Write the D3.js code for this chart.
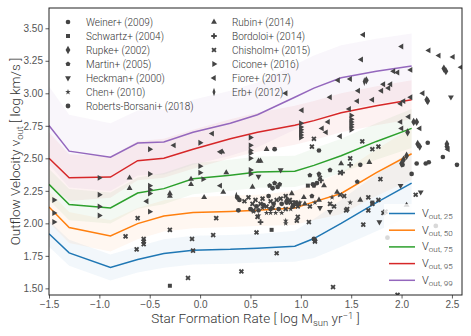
<!DOCTYPE html>
<html>
<head>
<meta charset="utf-8">
<script src="https://cdn.jsdelivr.net/npm/d3@7"></script>
<style>
  body { margin: 0; background: #fff; }
  svg { display: block; font-family: Roboto, "DejaVu Sans", sans-serif; }
</style>
</head>
<body>
<div id="chart"></div>
<script>
// percentile curves, sampled at common SFR nodes
const xNodes = [-1.5, -1.3, -0.89, -0.62, -0.36, -0.07, 0.3, 0.57, 0.94, 1.13, 1.4, 1.75, 2.1];
const v25 = [1.92, 1.773, 1.661, 1.722, 1.768, 1.794, 1.80, 1.809, 1.824, 1.883, 2.0, 2.16, 2.31];
const v50 = [2.126, 1.968, 1.903, 1.998, 2.057, 2.083, 2.092, 2.10, 2.118, 2.165, 2.23, 2.39, 2.535];
const v75 = [2.30, 2.144, 2.118, 2.233, 2.267, 2.343, 2.37, 2.394, 2.40, 2.446, 2.52, 2.63, 2.73];
const v95 = [2.50, 2.351, 2.356, 2.482, 2.50, 2.57, 2.65, 2.70, 2.755, 2.79, 2.85, 2.905, 2.95];
const v99 = [2.752, 2.555, 2.509, 2.617, 2.625, 2.70, 2.77, 2.835, 2.97, 3.04, 3.12, 3.17, 3.21];
// half widths of the shaded bands
const s25 = [0.10, 0.10, 0.10, 0.10, 0.11, 0.11, 0.11, 0.11, 0.12, 0.15, 0.18, 0.22, 0.25];
const s50 = [0.12, 0.12, 0.12, 0.12, 0.12, 0.12, 0.12, 0.12, 0.13, 0.14, 0.16, 0.18, 0.2];
const s75 = [0.12, 0.12, 0.12, 0.12, 0.12, 0.12, 0.12, 0.12, 0.12, 0.13, 0.13, 0.14, 0.15];
const s95 = [0.2, 0.18, 0.16, 0.15, 0.15, 0.15, 0.15, 0.15, 0.15, 0.15, 0.15, 0.15, 0.15];
const s99 = [0.3, 0.28, 0.26, 0.25, 0.25, 0.25, 0.25, 0.25, 0.25, 0.25, 0.25, 0.25, 0.25];
const lineNames = ["25", "50", "75", "95", "99"];

// observations  [log SFR, log v_out]
const weiner = [[2.15,2.46],[2.24,2.46],[2.27,2.47],[2.41,2.51],[2.55,2.45],[2.26,2.62],[2.01,2.45],[2.10,2.38],[1.59,2.45],[1.18,2.56]];
const schwartz = [[-0.30,1.52],[0.71,1.95],[1.07,2.29],[1.71,2.16]];
const rupke = [[2.42,3.19],[2.44,3.17],[2.25,2.95],[2.26,2.94],[2.12,2.78],[2.15,2.78],[2.06,2.70],[2.16,2.61],[2.18,2.59],[2.45,2.61],[2.45,2.59],[2.05,2.52],[2.00,2.46],[2.02,2.49],[1.65,3.10]];
const martin = [[1.09,2.37],[1.18,2.38],[1.29,2.41],[1.13,2.29],[1.11,2.21],[1.56,2.32],[0.69,2.29],[0.74,2.31],[0.79,2.30]];
const heckman = [[0.58,2.36],[0.80,2.41],[1.19,2.12],[1.29,2.09],[1.78,2.01],[1.99,2.29],[2.19,2.24],[2.49,2.97]];
const chen = [[0.53,2.09],[0.58,2.06],[0.66,2.08],[0.70,2.08],[0.75,2.08],[0.81,2.08],[0.85,2.02],[0.85,2.00],[0.99,2.16],[1.14,2.16],[1.31,2.20],[1.49,2.16],[0.62,2.12],[0.90,2.11]];
const roberts = [[0.37,2.20],[0.39,2.18],[0.38,2.10],[0.50,2.11],[0.56,2.13],[0.58,2.10],[0.63,2.14],[0.68,2.21],[0.70,2.11],[0.73,2.15],[0.78,2.11],[0.81,2.15],[0.86,2.16],[0.92,2.13],[0.74,2.57],[1.13,1.88],[1.14,1.87],[1.86,1.89],[2.34,1.98],[0.72,2.27],[0.77,2.28],[1.12,2.30],[1.16,2.31]];
const rubin = [[-0.70,2.35],[-0.70,2.27],[-0.30,2.23],[-0.30,2.21],[-0.09,2.34],[-0.09,2.30],[0.04,2.20],[0.23,2.24],[0.26,2.39],[0.22,2.55],[0.58,2.48],[0.60,2.48],[0.66,2.57],[0.52,2.28],[0.86,2.18],[0.91,2.23],[1.03,2.20],[1.04,2.15],[1.18,2.18],[1.36,2.24],[1.23,2.29],[1.40,2.46],[1.59,2.18],[1.68,2.47],[2.05,2.14]];
const bordoloi = [[1.49,2.45],[1.41,2.39],[1.20,2.33],[0.93,2.14],[0.60,2.01]];
const chisholm = [[-0.74,1.90],[-0.63,1.80],[-0.56,1.88],[-0.56,1.86],[-0.56,1.84],[-0.62,2.04],[-0.30,1.95],[-0.08,1.88],[0.13,1.91],[-0.07,1.79],[0.16,2.04],[0.56,1.93],[0.76,1.77],[0.41,1.63],[-0.12,1.58],[1.14,1.86],[1.08,2.01],[0.96,2.02],[1.62,1.99],[1.82,2.08],[1.67,2.10],[1.46,2.11],[1.33,2.13],[1.09,2.13],[1.29,2.15],[1.39,2.22],[1.43,2.21],[1.67,2.20],[1.77,2.18],[1.79,2.34],[2.14,2.22],[1.32,1.51],[1.45,2.10],[1.71,2.15],[1.13,2.65],[1.11,2.59],[1.61,2.63],[1.71,2.57],[1.77,2.59],[1.49,2.50],[1.39,2.39],[1.19,2.35],[0.57,2.05],[0.90,2.16],[0.95,2.16],[0.97,2.13],[0.48,2.20],[0.52,2.15],[0.60,2.15],[0.66,2.13],[0.70,2.17],[0.76,2.18],[0.85,2.21],[0.89,2.18],[0.94,2.16],[0.98,2.15],[0.53,2.10],[0.72,2.12],[0.85,2.11],[0.97,2.05],[1.96,1.45],[1.84,2.09],[0.44,2.17],[0.62,2.19],[0.80,2.19],[0.55,2.18]];
const cicone = [[-1.45,2.18],[-1.45,2.08],[-1.45,2.01],[-1.00,2.35],[-1.00,2.22],[-1.00,2.13],[-1.00,2.06],[-0.50,2.57],[-0.50,2.38],[-0.50,2.29],[-0.50,2.26],[-0.50,2.23],[-0.50,2.09],[0.00,2.62],[0.00,2.44],[0.00,2.39],[0.03,2.34],[0.50,2.66],[0.50,2.60],[0.50,2.56],[0.50,2.54],[0.50,2.50],[0.50,2.38],[0.50,2.41],[1.00,2.77],[1.00,2.74],[1.00,2.72],[1.00,2.70],[1.00,2.68],[1.00,2.66],[1.50,2.83],[1.50,2.80],[1.50,2.78],[1.50,2.76],[1.50,2.74],[1.50,2.72]];
const fiore = [[1.62,3.45],[2.00,3.36],[2.27,3.33],[2.37,3.29],[2.51,3.28],[2.59,3.20],[1.60,3.26],[1.92,3.17],[1.96,3.16],[2.09,3.18],[1.37,3.10],[1.49,3.11],[1.82,3.07],[1.89,3.07],[1.87,3.04],[1.80,3.02],[1.57,3.02],[1.29,2.97],[1.56,2.94],[1.71,2.95],[1.99,2.92],[2.02,2.94],[2.09,2.97],[2.21,3.00],[1.01,2.87],[1.48,2.88],[2.07,2.82],[1.99,2.78],[2.00,2.73],[1.27,2.78],[1.21,2.73],[1.25,2.70],[1.39,2.67],[2.18,2.73],[2.46,2.57],[0.85,3.00],[0.12,2.69],[-0.26,2.60],[0.20,2.55],[0.20,2.29],[-0.53,2.17]];
const erb = [[1.63,3.09],[0.36,2.21]];

const xTicks = [-1.5, -1.0, -0.5, 0.0, 0.5, 1.0, 1.5, 2.0, 2.5];
const yTicks = [1.5, 1.75, 2.0, 2.25, 2.5, 2.75, 3.0, 3.25, 3.5];

const W = 471, H = 336;
const L = 49, R = 462, T = 8, B = 295;
const ink = "#444";

const x = d3.scaleLinear().domain([-1.5, 2.6]).range([L, R]);
const y = d3.scaleLinear().domain([1.449, 3.656]).range([B, T]);

const svg = d3.select("#chart").append("svg").attr("width", W).attr("height", H);
svg.append("defs").append("clipPath").attr("id", "plot")
  .append("rect").attr("x", L).attr("y", T).attr("width", R - L).attr("height", B - T);

const colors = ["#1f77b4", "#ff7f0e", "#2ca02c", "#d62728", "#9467bd"];
const curves = [v25, v50, v75, v95, v99];
const spreads = [s25, s50, s75, s95, s99];

const plot = svg.append("g").attr("clip-path", "url(#plot)");

// bands
curves.forEach((vals, k) => {
  const pts = xNodes.map((xv, i) => ({x: xv, lo: vals[i] - spreads[k][i], hi: vals[i] + spreads[k][i]}));
  plot.append("path")
    .datum(pts)
    .attr("fill", colors[k])
    .attr("fill-opacity", 0.06)
    .attr("d", d3.area().x(d => x(d.x)).y0(d => y(d.lo)).y1(d => y(d.hi)));
});

// lines
curves.forEach((vals, k) => {
  plot.append("path")
    .datum(xNodes.map((xv, i) => [xv, vals[i]]))
    .attr("fill", "none")
    .attr("stroke", colors[k])
    .attr("stroke-width", 1.5)
    .attr("d", d3.line().x(d => x(d[0])).y(d => y(d[1])));
});

// marker shapes
const symbolPentagon = {
  draw(ctx, size) {
    const r = Math.sqrt(size / 2.378);
    for (let i = 0; i < 5; i++) {
      const a = -Math.PI / 2 + i * 2 * Math.PI / 5;
      if (i === 0) ctx.moveTo(r * Math.cos(a), r * Math.sin(a));
      else ctx.lineTo(r * Math.cos(a), r * Math.sin(a));
    }
    ctx.closePath();
  }
};

const sets = [
  {label: "Weiner+ (2009)", data: weiner, type: d3.symbolCircle, size: 17, rot: 0},
  {label: "Schwartz+ (2004)", data: schwartz, type: d3.symbolSquare, size: 16, rot: 0},
  {label: "Rupke+ (2002)", data: rupke, type: d3.symbolDiamond, size: 20, rot: 0},
  {label: "Martin+ (2005)", data: martin, type: symbolPentagon, size: 16, rot: 0},
  {label: "Heckman+ (2000)", data: heckman, type: d3.symbolTriangle, size: 15, rot: 180},
  {label: "Chen+ (2010)", data: chen, type: d3.symbolStar, size: 10, rot: 0},
  {label: "Roberts-Borsani+ (2018)", data: roberts, type: d3.symbolCircle, size: 18, rot: 0},
  {label: "Rubin+ (2014)", data: rubin, type: d3.symbolTriangle, size: 15, rot: 0},
  {label: "Bordoloi+ (2014)", data: bordoloi, type: d3.symbolCross, size: 17, rot: 0},
  {label: "Chisholm+ (2015)", data: chisholm, type: d3.symbolCross, size: 17, rot: 45},
  {label: "Cicone+ (2016)", data: cicone, type: d3.symbolTriangle, size: 15, rot: 90},
  {label: "Fiore+ (2017)", data: fiore, type: d3.symbolTriangle, size: 15, rot: -90},
  {label: "Erb+ (2012)", data: erb, type: d3.symbolDiamond, size: 22, rot: 0, thin: true}
];

function place(s, px, py) {
  return `translate(${px},${py}) rotate(${s.rot})` + (s.thin ? " scale(0.6,1)" : "");
}

const pts = svg.append("g").attr("clip-path", "url(#plot)");
sets.forEach(s => {
  pts.selectAll(null)
    .data(s.data)
    .join("path")
    .attr("d", d3.symbol(s.type, s.size))
    .attr("fill", ink)
    .attr("transform", d => place(s, x(d[0]), y(d[1])));
});

// axes
const axisFont = g => {
  g.select(".domain").remove();
  g.selectAll(".tick line").attr("stroke", "#333").attr("stroke-width", 0.8);
  g.selectAll(".tick text").attr("fill", "#555").style("font-size", "10px").style("font-weight", 300);
};

svg.append("g")
  .attr("transform", `translate(0,${B})`)
  .call(d3.axisBottom(x).tickValues(xTicks).tickFormat(d3.format(".1f")).tickSize(3.5).tickPadding(2.5))
  .call(axisFont);

svg.append("g")
  .attr("transform", `translate(${L},0)`)
  .call(d3.axisLeft(y).tickValues(yTicks).tickFormat(d3.format(".2f")).tickSize(3.5).tickPadding(2.5))
  .call(axisFont);

svg.append("rect")
  .attr("x", L).attr("y", T).attr("width", R - L).attr("height", B - T)
  .attr("fill", "none").attr("stroke", "#222").attr("stroke-width", 1);

// axis titles
const xt = svg.append("text")
  .attr("x", (L + R) / 2).attr("y", 323)
  .attr("text-anchor", "middle").attr("fill", "#333")
  .style("font-size", "13.5px").style("font-weight", 300);
xt.append("tspan").text("Star Formation Rate [ log M");
xt.append("tspan").attr("baseline-shift", "-25%").style("font-size", "9.5px").text("sun");
xt.append("tspan").text(" yr");
xt.append("tspan").attr("baseline-shift", "40%").style("font-size", "9.5px").text("−1");
xt.append("tspan").text(" ]");

const yt = svg.append("text")
  .attr("transform", `translate(20,${(T + B) / 2}) rotate(-90)`)
  .attr("text-anchor", "middle").attr("fill", "#333")
  .style("font-size", "13.5px").style("font-weight", 300);
yt.append("tspan").text("Outflow Velocity v");
yt.append("tspan").attr("baseline-shift", "-25%").style("font-size", "9.5px").text("out");
yt.append("tspan").text(" [ log km/s ]");

// marker legend
const leg = svg.append("g");
sets.forEach((s, i) => {
  const col = i < 7 ? 0 : 1;
  const row = i < 7 ? i : i - 7;
  const mx = col === 0 ? 68 : 214;
  const ty = 22 + row * 14;
  leg.append("path")
    .attr("d", d3.symbol(s.type, s.size))
    .attr("fill", ink)
    .attr("transform", place(s, mx, ty));
  leg.append("text")
    .attr("x", mx + 18).attr("y", ty).attr("dy", "0.35em")
    .attr("fill", "#333")
    .style("font-size", "10px").style("font-weight", 300)
    .text(s.label);
});

// line legend
svg.append("rect")
  .attr("x", 384).attr("y", 204).attr("width", 76).attr("height", 86)
  .attr("fill", "#fff").attr("fill-opacity", 0.8);
lineNames.forEach((n, i) => {
  const ly = 213.5 + i * 16.7;
  svg.append("line")
    .attr("x1", 389).attr("x2", 415).attr("y1", ly).attr("y2", ly)
    .attr("stroke", colors[i]).attr("stroke-width", 1.5);
  const t = svg.append("text")
    .attr("x", 422).attr("y", ly + 3.5)
    .attr("fill", "#333")
    .style("font-size", "11px").style("font-weight", 300);
  t.append("tspan").text("V");
  t.append("tspan").attr("baseline-shift", "-25%").style("font-size", "8px").text("out, " + n);
});
</script>
</body>
</html>
